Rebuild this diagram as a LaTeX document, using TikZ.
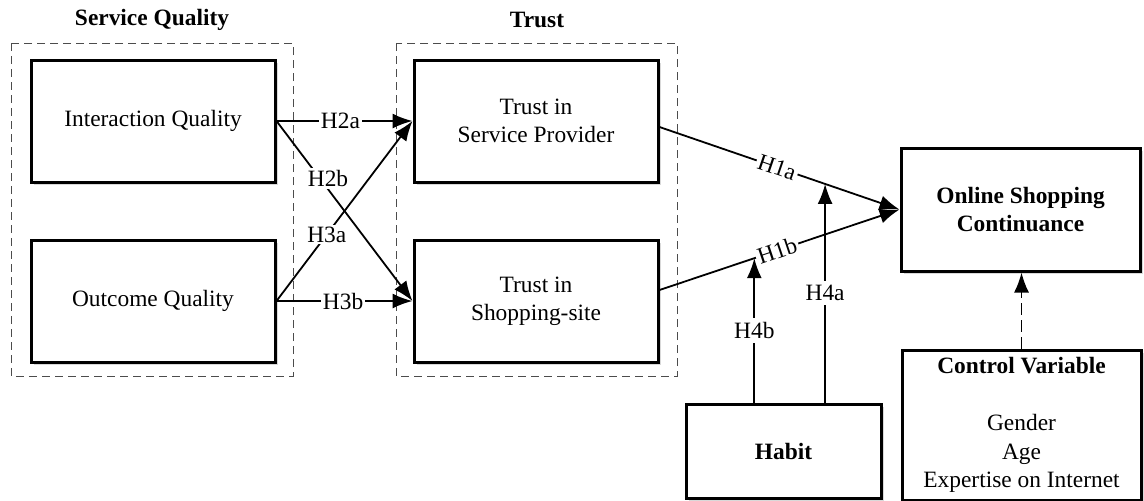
\documentclass[tikz,border=0pt]{standalone}
\usepackage{fontspec}
\setmainfont{Liberation Serif}
\usetikzlibrary{arrows.meta, shadows, calc, positioning}

\begin{document}
\begin{tikzpicture}[x=0.5pt, y=-0.5pt, >={Latex[length=10pt,width=7.5pt]},
    font=\fontsize{11.7}{14.2}\selectfont,
    box/.style={draw, line width=1.5pt, fill=white, align=center, inner sep=2pt,
        drop shadow={shadow xshift=1.5pt, shadow yshift=-1.5pt, opacity=0.3}},
    qbox/.style={box, minimum width=122pt, minimum height=61pt},
    grp/.style={draw=black!70, dash pattern=on 4pt off 2.5pt, line width=0.5pt},
    link/.style={->, line width=0.9pt},
    hyp/.style={fill=white, inner sep=1pt}]
    \useasboundingbox (0,0) rectangle (1144,500);

    % Nhóm biến (khung nét đứt)
    \draw[grp] (11,43) rectangle (293,376);
    \draw[grp] (396,43) rectangle (677,376);
    \node[font=\fontsize{11.7}{14.2}\selectfont\bfseries] (sqt) at (152,20) {Service Quality};
    \node[font=\fontsize{11.7}{14.2}\selectfont\bfseries] (trt) at (537,20) {Trust};

    % Các khối
    \node[qbox] (iq) at (153,121) {Interaction Quality};
    \node[qbox] (oq) at (153,301) {Outcome Quality};
    \node[qbox] (tsp) at (536,121) {Trust in\\Service Provider};
    \node[qbox] (tss) at (536,301) {Trust in\\Shopping-site};
    \node[box, minimum width=119.5pt, minimum height=61.5pt, font=\fontsize{11.7}{14.2}\selectfont\bfseries]
        (osc) at (1020.5,209.5) {Online Shopping\\Continuance};
    \node[box, minimum width=97.5pt, minimum height=47pt, font=\fontsize{11.7}{14.2}\selectfont\bfseries]
        (habit) at (783.5,451) {Habit};
    \node[box, minimum width=119.5pt, minimum height=75pt] (cv) at (1021.5,425)
        {\textbf{Control Variable}\\[14.2pt] Gender\\ Age\\ Expertise on Internet};

    % Giả thuyết H2, H3
    \draw[link] (iq.east) -- node[hyp, pos=0.47] {H2a} (tsp.west);
    \draw[link] (iq.east) -- node[hyp, pos=0.32, xshift=4pt] {H2b} (tss.west);
    \draw[link] (oq.east) -- node[hyp, pos=0.37] {H3a} (tsp.west);
    \draw[link] (oq.east) -- node[hyp, pos=0.49] {H3b} (tss.west);

    % Giả thuyết H1
    \draw[link] ($(tsp.east)+(0,6)$) -- node[hyp, pos=0.49, sloped] {H1a}
        coordinate[pos=0.69] (h4a) (osc.west);
    \draw[link] ($(tss.east)+(0,-11)$) -- node[hyp, pos=0.49, sloped] {H1b}
        coordinate[pos=0.395] (h4b) (osc.west);

    % Biến điều tiết H4
    \draw[link] (h4a |- habit.north) -- node[hyp, inner sep=2pt] {H4a} (h4a);
    \draw[link] (h4b |- habit.north) -- node[hyp, inner sep=2pt] {H4b} (h4b);

    % Biến kiểm soát
    \draw[link, dash pattern=on 6pt off 2.5pt] (cv.north) -- (cv.north |- osc.south);
\end{tikzpicture}
\end{document}
